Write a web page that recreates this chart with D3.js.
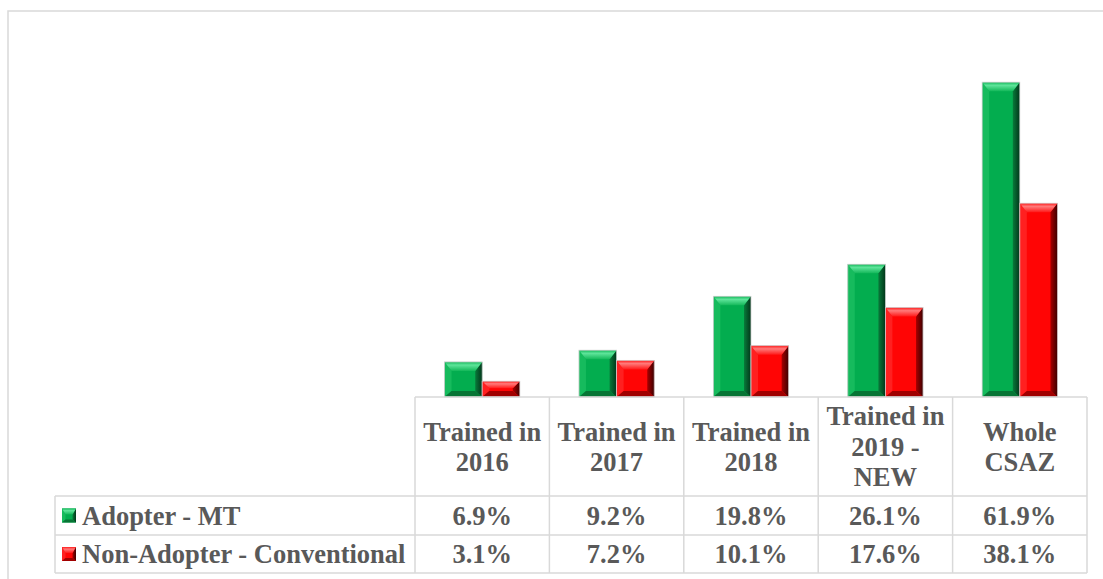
<!DOCTYPE html>
<html>
<head>
<meta charset="utf-8">
<script src="https://cdn.jsdelivr.net/npm/d3@7/dist/d3.min.js"></script>
<style>
  html, body { margin: 0; padding: 0; background: #fff; }
  svg { display: block; }
</style>
</head>
<body>
<script>
// Categories (header lines of the data table)
const categories = ["Trained in 2016", "Trained in 2017", "Trained in 2018", "Trained in 2019 - NEW", "Whole CSAZ"];
const categoryLines = [["Trained in", "2016"], ["Trained in", "2017"], ["Trained in", "2018"], ["Trained in", "2019 -", "NEW"], ["Whole", "CSAZ"]];
const seriesNames = ["Adopter - MT", "Non-Adopter - Conventional"];
const adopterMT = [6.9, 9.2, 19.8, 26.1, 61.9];
const nonAdopter = [3.1, 7.2, 10.1, 17.6, 38.1];
const yMax = 70;

const W = 1103, H = 579;
const FONT = "Liberation Serif";
const svg = d3.select("body").append("svg").attr("width", W).attr("height", H);
const defs = svg.append("defs");

// Shading for the bevelled bars
const palettes = [
  { id: "g", base: "#03ad4f", topA: "#5ee49a", topB: "#14b85a", left: "#16bb5d", rightA: "#087a3a", rightB: "#02361a", bottom: "#077535" },
  { id: "r", base: "#ff0505", topA: "#ff7a7a", topB: "#ff1a1a", left: "#ff2020", rightA: "#a80000", rightB: "#3d0000", bottom: "#a00000" }
];
palettes.forEach(p => {
  const t = defs.append("linearGradient").attr("id", "top-" + p.id).attr("x1", 0).attr("y1", 0).attr("x2", 0).attr("y2", 1);
  t.append("stop").attr("offset", 0).attr("stop-color", p.topB);
  t.append("stop").attr("offset", 0.35).attr("stop-color", p.topA);
  t.append("stop").attr("offset", 1).attr("stop-color", p.topB);
  const r = defs.append("linearGradient").attr("id", "right-" + p.id).attr("x1", 0).attr("y1", 0).attr("x2", 1).attr("y2", 0);
  r.append("stop").attr("offset", 0).attr("stop-color", p.rightA);
  r.append("stop").attr("offset", 1).attr("stop-color", p.rightB);
});

// Outer chart frame
svg.append("rect").attr("x", 8).attr("y", 11).attr("width", W + 10).attr("height", H + 10)
  .attr("fill", "none").attr("stroke", "#d9d9d9").attr("stroke-width", 1.5);

const tableLeft = 415, tableRight = 1087;
const baseY = 397;
const x0 = d3.scaleBand().domain(categories).range([tableLeft, tableRight]).padding(0);
const x1 = d3.scaleBand().domain(seriesNames).range([x0.bandwidth() * 0.22, x0.bandwidth() * 0.78]).padding(0);
const y = d3.scaleLinear().domain([0, yMax]).range([baseY, 41]);

const series = [adopterMT, nonAdopter];

function bevelBar(g, x, yTop, w, h, pal, maxB, outline) {
  const b = Math.max(1, Math.min(maxB, w / 4));
  const bt = Math.max(1, Math.min(maxB + 2, h * 0.45));
  const bb = Math.max(1, Math.min(maxB - 1, h * 0.4));
  const x2 = x + w, y2 = yTop + h;
  const poly = pts => pts.map(p => p.join(",")).join(" ");
  g.append("rect").attr("x", x).attr("y", yTop).attr("width", w).attr("height", h).attr("fill", pal.base);
  g.append("polygon").attr("points", poly([[x, yTop], [x + b, yTop + bt], [x + b, y2 - bb], [x, y2]])).attr("fill", pal.left);
  g.append("polygon").attr("points", poly([[x2, yTop], [x2, y2], [x2 - b, y2 - bb], [x2 - b, yTop + bt]])).attr("fill", `url(#right-${pal.id})`);
  g.append("polygon").attr("points", poly([[x, y2], [x + b, y2 - bb], [x2 - b, y2 - bb], [x2, y2]])).attr("fill", pal.bottom);
  g.append("polygon").attr("points", poly([[x, yTop], [x2, yTop], [x2 - b, yTop + bt], [x + b, yTop + bt]])).attr("fill", `url(#top-${pal.id})`);
  if (outline) {
    g.append("rect").attr("x", x).attr("y", yTop).attr("width", w).attr("height", h)
      .attr("fill", "none").attr("stroke", "#d0d0d0").attr("stroke-width", 0.8);
  }
}

// Bars
const barsG = svg.append("g");
categories.forEach((c, i) => {
  seriesNames.forEach((s, j) => {
    const v = series[j][i];
    bevelBar(barsG, x0(c) + x1(s), y(v), x1.bandwidth(), y(0) - y(v), palettes[j], 7, true);
  });
});

// Data table
const rowY = [baseY, 496, 535, 573];
const legendLeft = 55;
const gridColor = "#d9d9d9";
const tg = svg.append("g").attr("stroke", gridColor).attr("stroke-width", 1.5);
tg.append("line").attr("x1", tableLeft).attr("x2", tableRight).attr("y1", rowY[0]).attr("y2", rowY[0]);
[1, 2, 3].forEach(k => tg.append("line").attr("x1", legendLeft).attr("x2", tableRight).attr("y1", rowY[k]).attr("y2", rowY[k]));
tg.append("line").attr("x1", legendLeft).attr("x2", legendLeft).attr("y1", rowY[1]).attr("y2", rowY[3]);
categories.forEach(c => tg.append("line").attr("x1", x0(c)).attr("x2", x0(c)).attr("y1", rowY[0]).attr("y2", rowY[3]));
tg.append("line").attr("x1", tableRight).attr("x2", tableRight).attr("y1", rowY[0]).attr("y2", rowY[3]);

const fs = 26.5, lineH = 30.5, txt = "#595959";
function label(sel) {
  return sel.attr("font-family", FONT).attr("font-weight", "bold").attr("font-size", fs).attr("fill", txt);
}
// header cells
categories.forEach((c, i) => {
  const lines = categoryLines[i];
  const cy = (rowY[0] + rowY[1]) / 2;
  const startY = cy - (lines.length - 1) * lineH / 2;
  const t = label(svg.append("text")).attr("text-anchor", "middle");
  lines.forEach((ln, k) => {
    t.append("tspan").attr("x", x0(c) + x0.bandwidth() / 2).attr("y", startY + k * lineH).attr("dy", "0.35em").text(ln);
  });
});

// value rows and legend keys
const fmt = d3.format(".1f");
seriesNames.forEach((s, j) => {
  const cy = (rowY[j + 1] + rowY[j + 2]) / 2;
  bevelBar(svg.append("g"), 62, cy - 7, 14, 14, palettes[j], 4, false);
  label(svg.append("text")).attr("x", 82).attr("y", cy).attr("dy", "0.35em").text(s);
  categories.forEach((c, i) => {
    label(svg.append("text")).attr("x", x0(c) + x0.bandwidth() / 2).attr("y", cy).attr("dy", "0.35em")
      .attr("text-anchor", "middle").text(fmt(series[j][i]) + "%");
  });
});
</script>
</body>
</html>
